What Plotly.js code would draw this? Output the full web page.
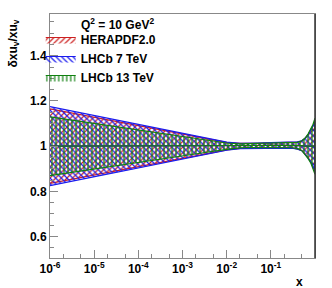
<!DOCTYPE html>
<html>
<head>
<meta charset="utf-8">
<script src="https://cdn.plot.ly/plotly-3.0.1.min.js"></script>
<style>html,body{margin:0;padding:0;background:#fff;}#chart{width:332px;height:288px;}</style>
</head>
<body>
<div id="chart"></div>
<script>
// x grid
var xVals = [1e-6, 3e-6, 1e-5, 3e-5, 1e-4, 3e-4, 1e-3, 3e-3, 1e-2, 2e-2, 3e-2, 5e-2, 0.1, 0.2, 0.3, 0.4, 0.5, 0.6, 0.7, 0.8, 0.9, 0.95, 1.0];
// central value (ratio)
var central = [1, 1, 1, 1, 1, 1, 1, 1, 1, 1.001, 1.002, 1.003, 1.004, 1.004, 1.004, 1.003, 1.002, 1, 1, 1, 1, 1, 1];
// HERAPDF2.0
var heraUp   = [1.165, 1.147, 1.128, 1.110, 1.091, 1.072, 1.054, 1.036, 1.017, 1.012, 1.011, 1.013, 1.015, 1.016, 1.016, 1.018, 1.023, 1.035, 1.052, 1.070, 1.090, 1.102, 1.113];
var heraDown = [0.835, 0.853, 0.872, 0.890, 0.909, 0.928, 0.946, 0.964, 0.983, 0.990, 0.993, 0.993, 0.993, 0.992, 0.992, 0.988, 0.981, 0.965, 0.948, 0.930, 0.910, 0.898, 0.887];
// LHCb 7 TeV
var lhcb7Up   = [1.175, 1.156, 1.136, 1.117, 1.096, 1.077, 1.057, 1.038, 1.018, 1.013, 1.012, 1.014, 1.016, 1.017, 1.017, 1.019, 1.024, 1.035, 1.050, 1.068, 1.088, 1.098, 1.110];
var lhcb7Down = [0.825, 0.844, 0.864, 0.883, 0.904, 0.923, 0.943, 0.962, 0.982, 0.989, 0.992, 0.992, 0.992, 0.991, 0.991, 0.987, 0.980, 0.965, 0.950, 0.932, 0.912, 0.902, 0.890];
// LHCb 13 TeV
var lhcb13Up   = [1.130, 1.116, 1.101, 1.087, 1.072, 1.057, 1.043, 1.029, 1.014, 1.010, 1.010, 1.012, 1.014, 1.015, 1.015, 1.017, 1.023, 1.036, 1.055, 1.074, 1.096, 1.110, 1.124];
var lhcb13Down = [0.870, 0.884, 0.899, 0.913, 0.928, 0.943, 0.957, 0.971, 0.986, 0.992, 0.994, 0.994, 0.994, 0.993, 0.993, 0.989, 0.981, 0.964, 0.945, 0.926, 0.904, 0.890, 0.876];

var seriesNames = ['HERAPDF2.0', 'LHCb 7 TeV', 'LHCb 13 TeV'];
var tickVals = [1e-6, 1e-5, 1e-4, 1e-3, 1e-2, 1e-1];
var tickText = ['10<sup>-6</sup>', '10<sup>-5</sup>', '10<sup>-4</sup>', '10<sup>-3</sup>', '10<sup>-2</sup>', '10<sup>-1</sup>'];
var yTickVals = [0.6, 0.8, 1, 1.2, 1.4];
var yTickText = ['0.6', '0.8', '1', '1.2', '1.4'];

var FONT = 'Liberation Sans, Arial, Helvetica, sans-serif';
var colors = ['#cc2020', '#1a1aee', '#108010'];
var shapes = ['/', '\\', '|'];
var ups = [heraUp, lhcb7Up, lhcb13Up];
var downs = [heraDown, lhcb7Down, lhcb13Down];

var traces = [];
for (var i = 0; i < 3; i++) {
  var xr = xVals.slice().reverse();
  var dr = downs[i].slice().reverse();
  traces.push({
    x: xVals.concat(xr),
    y: ups[i].concat(dr),
    type: 'scatter', mode: 'lines', fill: 'toself',
    name: seriesNames[i],
    line: {color: colors[i], width: 1.2},
    fillcolor: 'rgba(0,0,0,0)',
    fillpattern: {shape: shapes[i], fgcolor: colors[i], bgcolor: 'rgba(0,0,0,0)', size: 4, solidity: 0.3},
    hoverinfo: 'skip'
  });
}
for (var j = 0; j < 3; j++) {
  traces.push({
    x: xVals, y: central, type: 'scatter', mode: 'lines',
    line: {color: colors[j], width: 1.2}, showlegend: false, hoverinfo: 'skip'
  });
}

var layout = {
  width: 332, height: 288,
  margin: {l: 50, r: 17, t: 14, b: 30},
  paper_bgcolor: '#fff', plot_bgcolor: '#fff',
  font: {family: FONT, size: 11, color: '#000', weight: 'bold'},
  showlegend: true,
  legend: {
    x: -0.035, xanchor: 'left', y: 0.955, yanchor: 'top',
    bgcolor: 'rgba(0,0,0,0)', borderwidth: 0,
    font: {family: FONT, size: 12, color: '#000', weight: 'bold'},
    tracegroupgap: 0, itemwidth: 30
  },
  xaxis: {
    type: 'log', range: [-6, 0],
    tickvals: tickVals, ticktext: tickText,
    ticks: 'inside', ticklen: 8, tickcolor: '#888', tickwidth: 1,
    minor: {ticks: 'inside', ticklen: 4, tickcolor: '#888', showgrid: false},
    showline: true, linecolor: '#888', linewidth: 1, mirror: true,
    showgrid: false, zeroline: false,
    tickfont: {family: FONT, size: 12, color: '#000', weight: 'bold'}
  },
  yaxis: {
    range: [0.505, 1.585],
    tickvals: yTickVals, ticktext: yTickText,
    ticks: 'inside', ticklen: 8, tickcolor: '#888', tickwidth: 1,
    minor: {dtick: 0.05, ticks: 'inside', ticklen: 4, tickcolor: '#888', showgrid: false},
    showline: true, linecolor: '#888', linewidth: 1, mirror: true,
    showgrid: false, zeroline: false,
    tickfont: {family: FONT, size: 12, color: '#000', weight: 'bold'}
  },
  shapes: [
    {type: 'line', xref: 'paper', yref: 'paper', x0: 1, x1: 1, y0: 0, y1: 1, line: {color: '#333', width: 1.5}}
  ],
  annotations: [
    {text: 'Q<sup>2</sup> = 10 GeV<sup>2</sup>', xref: 'paper', yref: 'paper', x: 0.255, y: 1.0, xanchor: 'center', yanchor: 'top', showarrow: false,
     font: {family: FONT, size: 12, color: '#000', weight: 'bold'}},
    {text: 'δxu<sub>v</sub>/xu<sub>v</sub>', xref: 'paper', yref: 'paper', x: -0.135, y: 0.88, textangle: -90, xanchor: 'center', yanchor: 'middle', showarrow: false,
     font: {family: FONT, size: 12, color: '#000', weight: 'bold'}},
    {text: 'x', xref: 'paper', yref: 'paper', x: 0.94, y: -0.1, xanchor: 'center', yanchor: 'middle', showarrow: false,
     font: {family: FONT, size: 12, color: '#000', weight: 'bold'}}
  ]
};

Plotly.newPlot('chart', traces, layout, {displayModeBar: false, staticPlot: true});
</script>
</body>
</html>
